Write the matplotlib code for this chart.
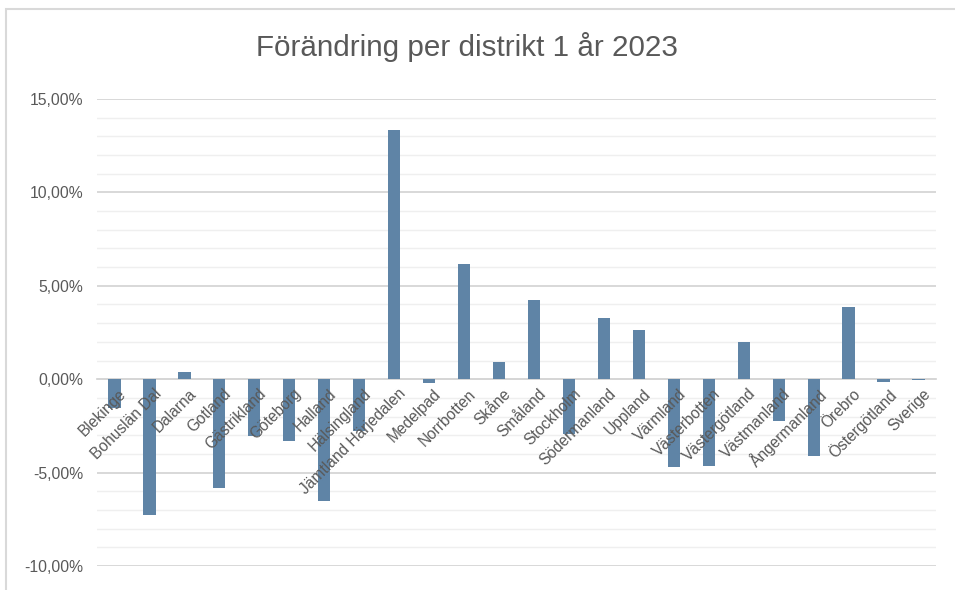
import matplotlib
matplotlib.use("Agg")
import matplotlib.pyplot as plt
from matplotlib.patches import Rectangle
from matplotlib.ticker import FuncFormatter, MultipleLocator
from matplotlib.transforms import offset_copy

districts = [
    "Blekinge", "Bohuslän Dal", "Dalarna", "Gotland", "Gästrikland", "Göteborg",
    "Halland", "Hälsingland", "Jämtland Härjedalen", "Medelpad", "Norrbotten",
    "Skåne", "Småland", "Stockholm", "Södermanland", "Uppland", "Värmland",
    "Västerbotten", "Västergötland", "Västmanland", "Ångermanland", "Örebro",
    "Östergötland", "Sverige",
]
change_pct = [
    -1.53, -7.27, 0.37, -5.83, -3.03, -3.32,
    -6.50, -2.80, 13.35, -0.20, 6.17,
    0.91, 4.26, -2.94, 3.30, 2.64, -4.71,
    -4.63, 1.99, -2.23, -4.10, 3.87,
    -0.15, -0.04,
]
title = "Förändring per distrikt 1 år 2023"

plt.rcParams["font.family"] = ["Liberation Sans", "DejaVu Sans"]
text_color = "#595959"

fig = plt.figure(figsize=(9.55, 5.9), dpi=100)
ax = fig.add_axes([0.1016, 0.0407, 0.8785, 0.7915])
ax.set_axisbelow(True)

x = list(range(len(districts)))
ax.bar(x, change_pct, width=0.35, color="#5f84a6", zorder=3)

ax.set_xlim(-0.5, len(districts) - 0.5)
ax.set_ylim(-10, 15)

# gridlines: major every 5 %, minor every 1 %
ax.yaxis.set_major_locator(MultipleLocator(5))
ax.yaxis.set_minor_locator(MultipleLocator(1))
ax.grid(axis="y", which="major", color="#d6d6d6", linewidth=1.3)
ax.grid(axis="y", which="minor", color="#efefef", linewidth=1.0)
ax.yaxis.set_major_formatter(
    FuncFormatter(lambda v, _: f"{v:.2f}%".replace(".", ",")))
ax.tick_params(axis="y", which="both", length=0, pad=10,
               labelsize=11.3, labelcolor=text_color)

# category axis sits on the zero line, labels drawn over the bars
for side in ["top", "right", "left"]:
    ax.spines[side].set_visible(False)
ax.spines["bottom"].set_position(("data", 0))
ax.spines["bottom"].set_color("#d6d6d6")
ax.spines["bottom"].set_linewidth(1.3)
ax.set_xticks(x)
ax.set_xticklabels([])
ax.tick_params(axis="x", length=0)

label_tr = offset_copy(ax.transData, fig=fig, x=3, y=-5, units="points")
for i, name in enumerate(districts):
    ax.text(i, 0, name, transform=label_tr, rotation=45, ha="right",
            va="top", rotation_mode="anchor", fontsize=11.2,
            color=text_color, zorder=5)

fig.text(0.489, 0.895, title, ha="center", va="bottom",
         fontsize=21.3, color=text_color)

# chart frame (cut off at right and bottom like the source)
fig.patches.append(Rectangle((6 / 955, -0.1), 1.2, 1.1 - 9 / 590,
                             transform=fig.transFigure, fill=False,
                             edgecolor="#d9d9d9", linewidth=1.5))

fig.savefig("out.png", dpi=100)
